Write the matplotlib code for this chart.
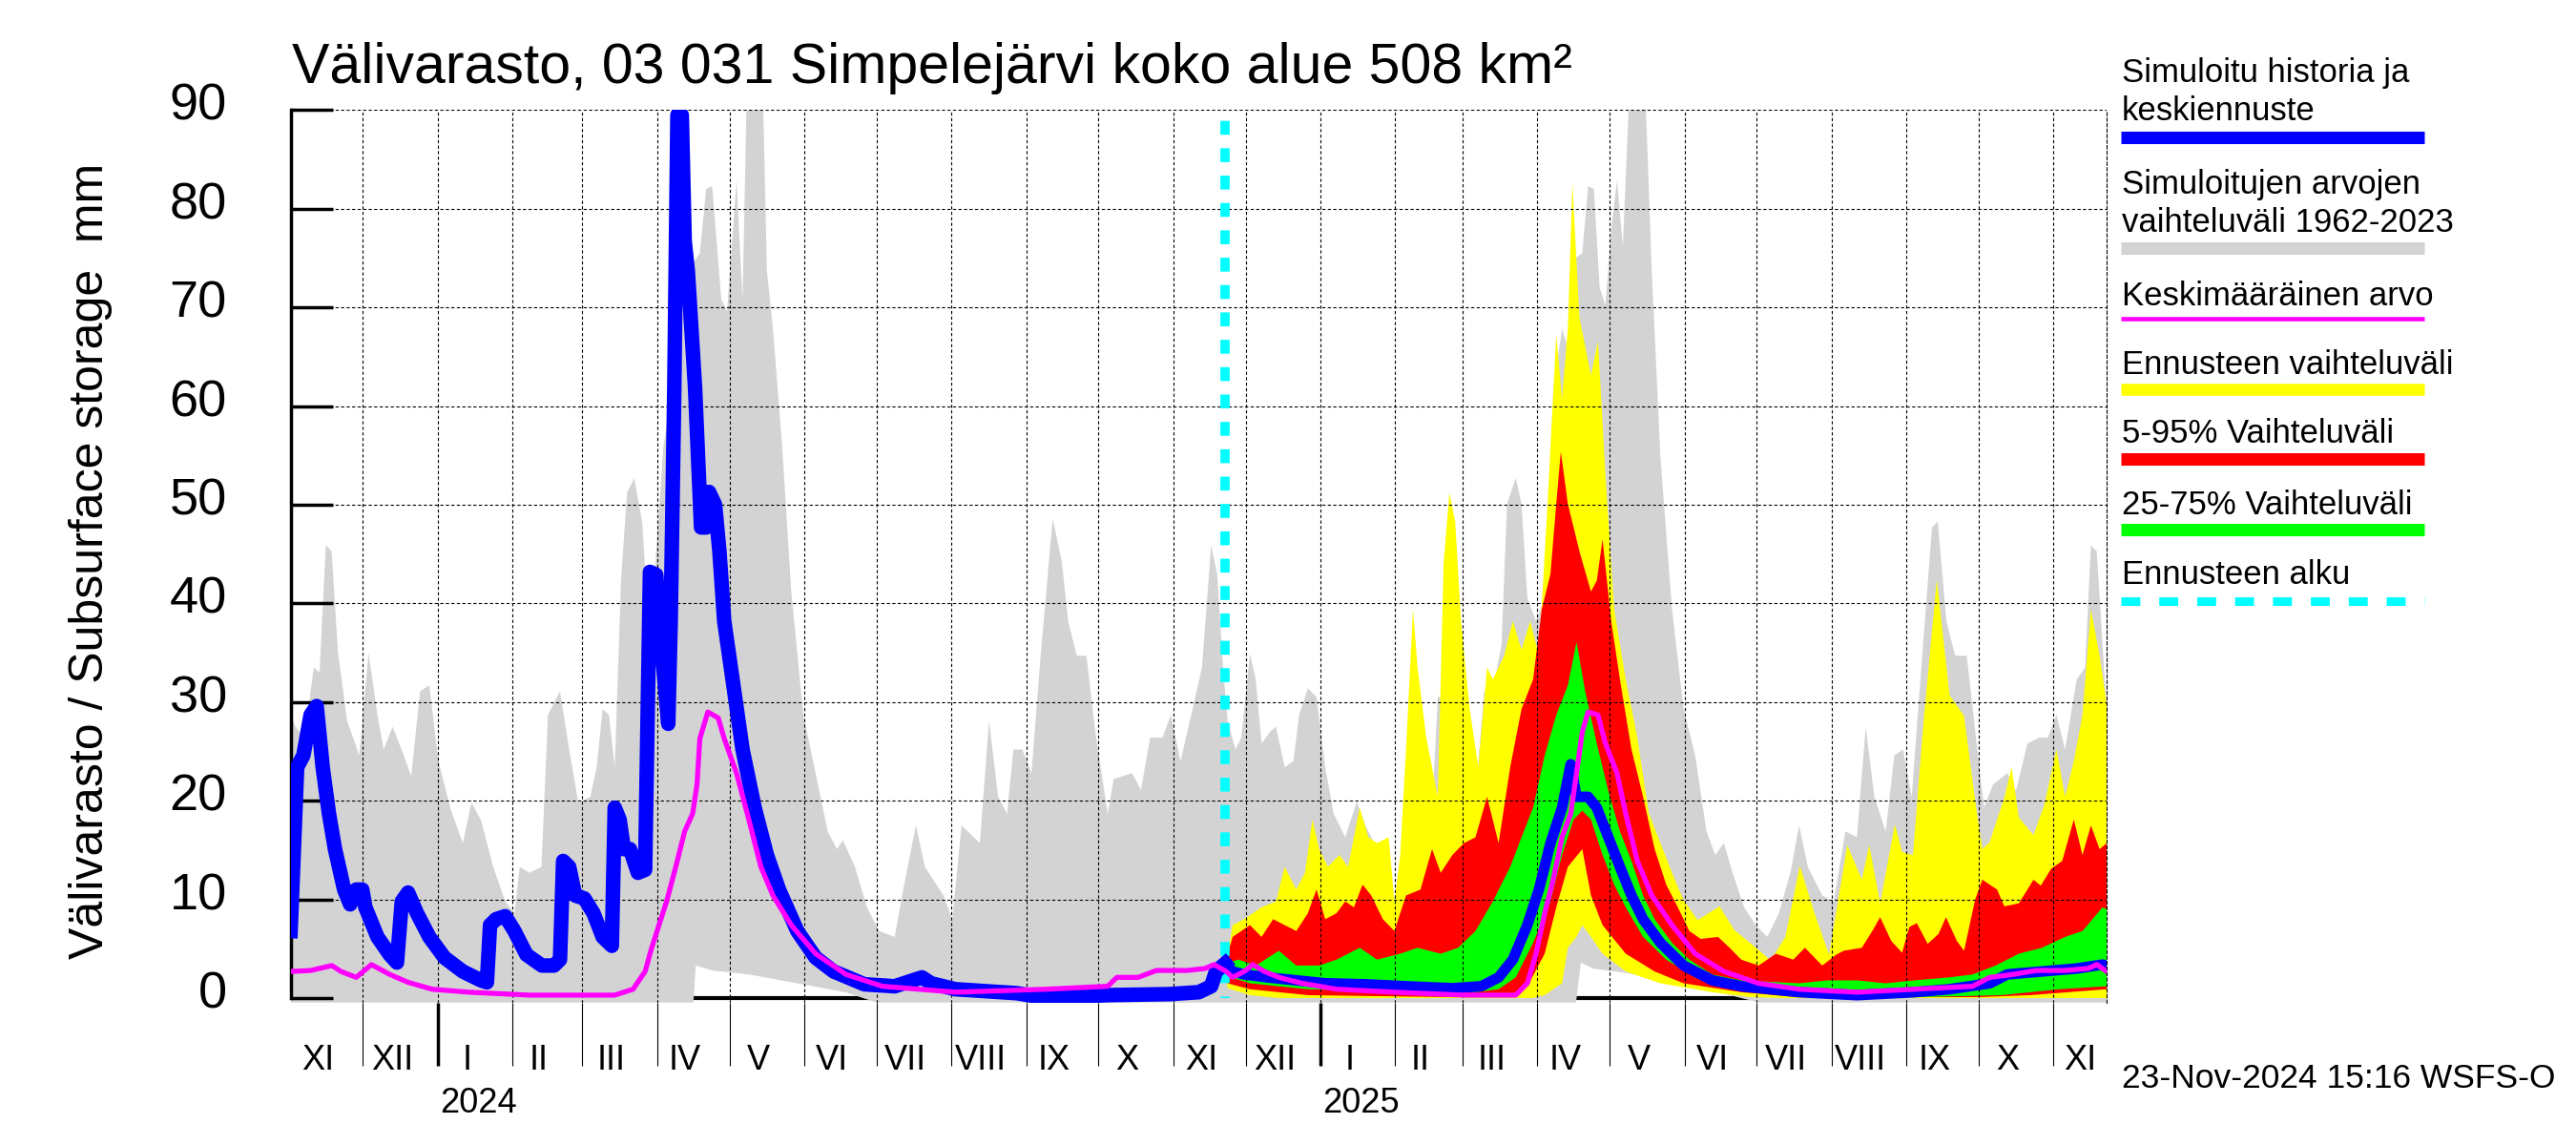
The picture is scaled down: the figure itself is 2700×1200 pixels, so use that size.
import numpy as np
import matplotlib
matplotlib.use("Agg")
import matplotlib.pyplot as plt
from matplotlib.lines import Line2D
from matplotlib.transforms import blended_transform_factory, ScaledTranslation

plt.rcParams['font.family'] = ['Liberation Sans', 'DejaVu Sans']

# ------------------------------------------------------------------ data
# x values are days counted from 2023-11-01
START = np.datetime64('2023-11-01')
END = np.datetime64('2025-11-23')
FORECAST_START = 387.5

title = "Välivarasto, 03 031 Simpelejärvi koko alue 508 km²"
ylabel = "Välivarasto / Subsurface storage  mm"
footer = "23-Nov-2024 15:16 WSFS-O"
month_names = ['I', 'II', 'III', 'IV', 'V', 'VI', 'VII', 'VIII', 'IX', 'X', 'XI', 'XII']
yticks = [0, 10, 20, 30, 40, 50, 60, 70, 80, 90]
legend_labels = ["Simuloitu historia ja\nkeskiennuste",
                 "Simuloitujen arvojen\nvaihteluväli 1962-2023",
                 "Keskimääräinen arvo",
                 "Ennusteen vaihteluväli",
                 "5-95% Vaihteluväli",
                 "25-75% Vaihteluväli",
                 "Ennusteen alku"]

# simulated history (blue)
hist_days = [0, 2.7, 5.3, 8.3, 10.8, 13.3, 15.9, 18.4, 22.2, 24.7, 27.2, 29.7, 31, 36, 41.1, 44.1,
             46.1, 48.7, 52.4, 57.5, 63.8, 71.4, 78.9, 81.4, 82.7, 85.2, 89, 92.8, 97.8, 104.2,
             109.2, 111.7, 113, 115.5, 118, 121.8, 125.6, 129.4, 133.2, 134.4, 136.4, 138.2,
             140.7, 144, 147, 149, 151.6, 153.3, 156.6, 157.6, 159.1, 160.4, 162.2, 163.4, 164.7,
             167.7, 170.2, 172.3, 173.5, 176, 177.8, 179.8, 183.6, 187.4, 192.4, 197.5, 202.5,
             210.1, 217.7, 225.2, 237.9, 250.5, 258, 261.8, 265.6, 275.7, 301, 313.5, 338.8,
             364, 376.6, 381.7, 383.7, 387.5]
hist_vals = [6.8, 23.4, 24.6, 28.7, 29.6, 23.4, 18.7, 15.1, 11.0, 9.5, 11.0, 11.0, 9.2, 6.2, 4.4,
             3.6, 9.8, 10.7, 8.6, 6.2, 4.1, 2.7, 1.8, 1.6, 7.4, 8.0, 8.3, 6.8, 4.4, 3.3, 3.3, 3.9,
             13.9, 13.3, 10.4, 10.1, 8.6, 6.2, 5.3, 19.3, 18.1, 15.1, 15.1, 12.7, 13.0, 43.2, 42.9,
             37.0, 27.8, 38.2, 61.9, 89.5, 89.5, 76.7, 73.7, 61.9, 47.7, 47.7, 51.3, 50.0, 45.3,
             38.2, 31.7, 25.2, 19.3, 14.5, 11.0, 6.8, 4.1, 2.7, 1.4, 1.2, 1.8, 2.1, 1.5, 0.9, 0.5,
             0.0, 0.3, 0.4, 0.6, 1.2, 2.7, 3.5]

# forecast median (blue)
med_days = [387.5, 390.6, 395.4, 405, 417, 429, 445.7, 462.5, 481.7, 493.7, 500.9, 506.8, 512.8,
            517.6, 522.4, 527.2, 530.8, 533.2, 538, 541.6, 546.4, 551.2, 556, 560.8, 568, 577.6,
            589.5, 601.5, 625.5, 649.5, 673.4, 687.8, 704.6, 711.8, 726.2, 740.6, 751.3, 753]
med_vals = [3.5, 2.7, 2.4, 2.1, 1.8, 1.5, 1.4, 1.2, 1.0, 1.2, 2.1, 3.9, 7.4, 11.0, 15.7, 19.3,
            23.7, 20.4, 20.4, 19.3, 16.3, 13.3, 10.4, 8.0, 5.6, 3.3, 1.8, 1.2, 0.6, 0.3, 0.6, 0.9,
            1.5, 2.4, 2.7, 3.0, 3.4, 3.3]

# long-term mean (magenta)
mean_days = [0, 8.3, 17.1, 20.9, 27.2, 33.5, 41.1, 48.7, 58.7, 73.9, 99.1, 134.4, 142, 147,
             149.6, 155.9, 159.7, 163.4, 166.7, 168.5, 169.7, 173, 177.3, 179.8, 184.9, 190, 195,
             200, 207.6, 217.7, 230.3, 245.4, 275.7, 313.5, 338.8, 342.6, 351.4, 359, 371.6,
             379.1, 382.9, 388, 390.6, 395.4, 399, 403.8, 409.8, 419.4, 433.7, 457.7, 486.5, 508,
             512.8, 516.4, 520, 523.6, 527.2, 530.8, 533.2, 535.6, 538, 542.1, 545.2, 550, 553.6,
             558.4, 564.4, 572.8, 582.4, 594.3, 608.7, 625.5, 649.5, 673.4, 697.4, 704.6, 714.2,
             723.8, 735.8, 745.3, 749, 753]
mean_vals = [2.7, 2.8, 3.3, 2.7, 2.1, 3.4, 2.4, 1.6, 0.9, 0.6, 0.3, 0.3, 0.9, 2.7, 5.0, 9.8,
             13.3, 16.9, 18.7, 21.6, 26.3, 29.0, 28.4, 26.3, 22.8, 18.1, 13.3, 10.4, 7.4, 4.5, 2.4,
             1.2, 0.6, 0.9, 1.2, 2.1, 2.1, 2.8, 2.8, 3.0, 3.4, 2.7, 2.1, 2.7, 3.4, 2.7, 2.1, 1.5,
             0.9, 0.6, 0.3, 0.3, 1.5, 4.5, 8.6, 12.1, 16.3, 18.7, 22.8, 27.0, 29.0, 28.7, 25.8,
             22.8, 18.7, 13.9, 10.4, 7.4, 4.5, 2.7, 1.5, 0.9, 0.6, 0.9, 1.2, 2.1, 2.4, 2.8, 2.8,
             3.0, 3.4, 2.7]

# range of simulated values 1962-2023 (grey)
gray_hi_days = [0, 2, 5.8, 9.6, 12, 14.6, 17, 19.6, 23.4, 28.5, 32.3, 36, 38.6, 42.3, 46, 50, 53.7,
                57.5, 61.3, 66.3, 71.4, 75, 79, 84, 89, 92.8, 95, 99, 104, 106.7, 111.7, 115.5,
                119.3, 124.3, 126.9, 129.4, 132, 134.4, 137, 139.5, 142.5, 145.8, 148.3, 150.8,
                154.6, 159.7, 164.7, 169.7, 172.3, 174.8, 178.6, 181, 184.9, 187.4, 189, 196,
                197.5, 200, 203.8, 207.6, 212.6, 217.7, 222.7, 226.5, 229, 234, 239, 244, 250.5,
                254, 259.3, 263, 270.7, 274.4, 278.2, 283.3, 285.8, 289.6, 293.4, 297.1, 299.7,
                303.4, 307.2, 311, 316, 319.8, 322.4, 326, 330, 333.7, 338.8, 341.3, 348.9, 352.6,
                356.4, 361.5, 365, 369, 374, 377.9, 381.7, 384.2, 386.5, 388.5, 391.8, 394.2,
                397.8, 400.2, 402.6, 406.2, 408.6, 412.2, 415.8, 418.2, 421.8, 425.4, 429, 432.5,
                437.3, 442.1, 445.7, 450.5, 455.3, 458.9, 462.5, 467.3, 472.1, 475.7, 479.3, 482.9,
                486.5, 491.3, 494.9, 498.5, 502.1, 504.4, 508, 510.4, 512.8, 516.4, 520, 523.6,
                527.2, 529.6, 532, 535.6, 538, 540.4, 542.8, 545.2, 547.6, 550, 552.4, 554.8, 562,
                564.4, 568, 572.8, 577.6, 582.4, 587.1, 590.7, 594.3, 597.9, 602.7, 607.5, 612.3,
                617.1, 621.9, 625.5, 629.1, 635.1, 639.9, 644.7, 649.5, 653.1, 656.7, 661.4, 665,
                668.6, 672.2, 675.8, 680.6, 683, 686.6, 690.2, 695, 698.6, 702.2, 705.8, 711.8,
                715.4, 720.2, 725, 728.6, 732.2, 735.8, 740.6, 744.1, 746.5, 748.9, 753]
gray_hi_vals = [28.7, 27.5, 26.4, 33.5, 33, 45.9, 45.3, 35.2, 28.1, 24.6, 35, 28.7, 25.2, 27.5,
                25.2, 22.5, 31.1, 31.7, 24, 19.2, 15.7, 19.8, 18, 13.3, 9.8, 8.6, 13.3, 12.7, 13.3,
                28.7, 31.1, 25.2, 19.8, 20.4, 23.4, 29.3, 28.7, 23.4, 42.3, 51.2, 52.7, 48.2, 38.2,
                42.3, 56, 63.7, 73.7, 75.5, 82, 82.3, 70.8, 69.6, 82.9, 70.8, 90, 90, 73.7, 67.8,
                56, 41.2, 28.7, 22.8, 16.9, 15.1, 16, 13.3, 9.2, 6.8, 6.2, 11, 17.5, 13.3, 10.4, 8,
                17.5, 16.3, 15.7, 28.1, 20.4, 18.7, 25.2, 25.2, 22.8, 34.7, 48.6, 44.2, 38.2, 34.7,
                34.7, 26.9, 18.7, 22.2, 22.8, 21.1, 26.4, 26.4, 28.7, 24, 29.3, 33.5, 45.9, 43, 34,
                28.1, 25.2, 26.4, 34.9, 32.3, 25.8, 27, 27.5, 23.4, 24, 28.7, 31.4, 30.5, 23.4,
                18.7, 16.3, 19.9, 17.5, 15.1, 10.4, 7.4, 12.1, 12.7, 13.3, 30.5, 30.5, 23.4, 20.4,
                20.4, 31.1, 31.1, 35.8, 50.1, 52.7, 50.1, 40.6, 38.2, 40.6, 61.9, 67.8, 66, 74.9,
                75.5, 82.3, 82, 72, 70.2, 77.9, 82.9, 76.1, 90, 90, 73.7, 54.8, 39.4, 29.3, 24.6,
                16.9, 14.5, 15.7, 12.7, 9.2, 7.4, 6.2, 8.6, 12.7, 17.5, 13.3, 10.4, 9.8, 16.9, 16.3,
                27.5, 20.4, 16.9, 24.6, 25.2, 20.4, 32.3, 47.7, 48.3, 38.2, 34.7, 34.7, 26.9, 19.3,
                21.6, 22.8, 21, 25.8, 26.4, 26.4, 28.7, 25.2, 32.3, 33.5, 45.9, 45.3, 29.3]
gray_lo_days = [0, 167, 168, 175, 190, 210, 230, 243, 533, 535, 540, 555, 575, 595, 609, 753]
gray_lo_vals = [0, 0, 3.3, 2.8, 2.4, 1.5, 0.6, 0, 0, 3.6, 3.0, 2.5, 1.4, 0.4, 0, 0]

# forecast range min-max (yellow)
yel_hi_days = [387.5, 388.2, 390.6, 395.4, 402.6, 408.6, 412.2, 417, 420.6, 423.7, 426.5, 430.1,
               434.9, 438.5, 443.3, 446.9, 450.5, 455.3, 457.7, 460.1, 462.5, 465.4, 467.3, 470.9,
               475.7, 478.1, 480.5, 482.9, 485.3, 488.9, 492.5, 496.1, 498.5, 503.2, 506.8, 510.4,
               514, 517.6, 521.2, 524.8, 527.2, 529.6, 531.5, 534.4, 539.2, 542.1, 545.2, 548.8,
               553.6, 558.4, 563.2, 568, 572.8, 577.4, 583.4, 592.5, 598.6, 607.6, 613.7, 619.8,
               625.8, 631.9, 637.9, 645.5, 651.5, 654.6, 659.1, 665.2, 668.2, 672.7, 677.3, 682.6,
               687.9, 693.9, 698.5, 701.5, 704.5, 710.6, 713.6, 716.6, 722.7, 727.2, 732.2, 735.8,
               739.4, 743, 746.5, 750.1, 753]
yel_hi_vals = [3.5, 3.9, 7.4, 8.0, 9.2, 9.8, 13.3, 11, 12.7, 18.1, 15.1, 13.3, 14.5, 13.3, 19.3,
               16.3, 15.7, 16.3, 9.8, 14.5, 25.2, 39.4, 33.5, 26.4, 20.4, 44.1, 51.2, 48.3, 38.2,
               29.3, 23.4, 33.5, 32.3, 34.7, 38.2, 35.3, 38.2, 34.7, 50.1, 67.2, 60.7, 67.8, 82.6,
               69, 63.1, 66.6, 53, 39.4, 32.3, 26.4, 18.7, 15.7, 12.7, 10, 7.9, 9.3, 6.9, 5.1, 3.8,
               6.2, 13.4, 8.6, 4.4, 15.5, 12, 15.5, 9.6, 17.6, 14.8, 14.5, 28.6, 42.4, 30.7, 28.6,
               20, 15.1, 15.8, 20.3, 23.4, 18.3, 16.5, 19.6, 25.2, 20.4, 24, 28.7, 39.4, 34.7, 29.9]
yel_lo_days = [387.5, 388.5, 397.8, 410, 515, 520, 527.2, 529.6, 533.2, 535.6, 539.2, 544, 553.6,
               568, 589.5, 605, 620, 753]
yel_lo_vals = [3.5, 1.0, 0.3, 0.0, 0.0, 0.3, 1.5, 5.1, 6.2, 7.4, 6.2, 4.5, 2.7, 1.5, 0.6, 0.1,
               0.0, 0.0]

# 5-95 % range (red)
red_hi_days = [387.5, 390.6, 397.8, 402.6, 407.4, 412.2, 417, 421.8, 425.4, 429, 433.7, 437.3,
               440.9, 444.5, 448.1, 452.9, 457.7, 462.5, 468.5, 473.3, 476.9, 481.7, 486.5, 491.3,
               496.1, 500.9, 505.7, 510.4, 515.2, 518.8, 522.4, 524.8, 526.7, 529.6, 534.4, 539.2,
               541.6, 544, 547.6, 551.2, 556, 560.8, 565.6, 570.4, 575.2, 580, 584.7, 591.9, 596.7,
               601.5, 608.7, 615.9, 623.1, 627.9, 635.1, 640.9, 644, 651.5, 656.1, 659.1, 663.7,
               668.2, 671.2, 674.3, 678.8, 683.3, 686.4, 690.9, 693.9, 698.5, 701.5, 707.6, 710.6,
               716.6, 722.7, 725.7, 730, 734.6, 739.4, 743, 746.5, 750.1, 753]
red_hi_vals = [3.5, 6.2, 7.4, 6.2, 8, 7.4, 6.8, 8.6, 11, 8, 8.6, 9.8, 9.2, 11.5, 10.4, 8, 6.8,
               10.4, 11, 15.1, 12.7, 14.5, 15.7, 16.3, 20.4, 15.7, 23.4, 29.3, 32.3, 39.4, 43,
               50.1, 55.4, 50.1, 45.3, 41.2, 42.3, 46.5, 38.2, 32.3, 25.2, 20.4, 15.1, 11.5, 9.2,
               6.8, 6, 6.2, 5.1, 3.9, 3.3, 4.5, 3.9, 5.1, 3.3, 4.4, 4.8, 5.1, 6.9, 8.2, 5.8, 4.6,
               7.2, 7.6, 5.5, 6.5, 8.2, 5.8, 4.8, 10, 12, 11, 9.3, 9.6, 12, 11.4, 13.1, 13.9, 18.1,
               14.5, 17.5, 15.1, 15.7]
red_lo_days = [387.5, 388.5, 397.8, 421.8, 480, 505.7, 512.8, 520, 524.8, 529.6, 535.6, 539.2,
               544, 553.6, 565.6, 577.6, 601.5, 625, 700, 721.4, 753]
red_lo_vals = [3.5, 1.5, 0.9, 0.3, 0.1, 0.3, 1.2, 4.5, 9.2, 13.3, 15.1, 10.4, 7.4, 4.5, 2.7,
               1.5, 0.6, 0.1, 0.1, 0.3, 0.9]

# 25-75 % range (green)
grn_hi_days = [387.5, 393, 400.2, 409.8, 417, 426.5, 433.7, 443.3, 450.5, 460.1, 467.3, 476.9,
               484.1, 491.3, 498.5, 505.7, 510.4, 515.2, 520, 524.8, 529.6, 533.2, 536.8, 541.6,
               546.4, 551.2, 556, 560.8, 565.6, 572.8, 580, 589.5, 601.5, 625.5, 637.5, 649.5,
               661.4, 673.4, 687.8, 697.4, 707, 716.6, 726.2, 735.8, 743, 751.3, 753]
grn_hi_vals = [3.5, 3.9, 3.3, 4.8, 3.3, 3.3, 3.9, 5.1, 3.9, 4.5, 5.1, 4.5, 5.1, 6.8, 9.8, 13.3,
               16.3, 19.3, 24.6, 28.7, 31.7, 36.1, 31.1, 25.8, 21, 16.9, 13.9, 10.4, 8, 5.6, 3.9,
               2.4, 1.8, 1.5, 1.8, 1.8, 1.5, 1.8, 2.1, 2.4, 3.3, 4.5, 5.1, 6.2, 6.8, 9.2, 9.0]
grn_lo_days = [387.5, 388.5, 397.8, 421.8, 457.7, 491.3, 500.9, 508, 515.2, 522.4, 527.2, 532,
               535.6, 539.2, 544, 548.8, 553.6, 560.8, 570.4, 582.4, 601.5, 625.5, 660, 709.4,
               733.4, 753]
grn_lo_vals = [3.5, 2.2, 1.5, 0.9, 0.6, 0.6, 0.9, 2.1, 5.6, 9.8, 14.5, 18.1, 19, 18.1, 14.5,
               11.5, 9.2, 6.2, 3.9, 2.1, 0.9, 0.3, 0.0, 0.3, 0.9, 1.2]

# ------------------------------------------------------------------ figure
W_PX, H_PX = 2700, 1200
fig = plt.figure(figsize=(27, 12), dpi=100)
Y_BOTTOM = -0.45
ax_left, ax_right = 304.6, 2208.0
ax_top, ax_bot = 115.4, 1050.7
ax = fig.add_axes([ax_left / W_PX, 1 - ax_bot / H_PX,
                   (ax_right - ax_left) / W_PX, (ax_bot - ax_top) / H_PX])

x_end = float((END - START).astype(int))
ax.set_xlim(0, x_end)
ax.set_ylim(Y_BOTTOM, 90)

GRAY = '#d3d3d3'


def band(hd, hv, ld, lv, color, z):
    hd, hv, ld, lv = map(lambda a: np.asarray(a, float), (hd, hv, ld, lv))
    ax.fill(np.r_[hd, ld[::-1]], np.r_[hv, lv[::-1]], color=color, lw=0, zorder=z)


glo = np.asarray(gray_lo_vals, float)
glo_plot = np.where(glo <= 0, Y_BOTTOM, glo)
band(gray_hi_days, gray_hi_vals, gray_lo_days, glo_plot, GRAY, 1.0)
band(yel_hi_days, yel_hi_vals, yel_lo_days, yel_lo_vals, '#ffff00', 1.1)
band(red_hi_days, red_hi_vals, red_lo_days, red_lo_vals, '#ff0000', 1.2)
band(grn_hi_days, grn_hi_vals, grn_lo_days, grn_lo_vals, '#00ff00', 1.3)

# zero line under the grey band
ax.axhline(0, color='black', lw=3.0, zorder=0.8)

# forecast start
ax.plot([FORECAST_START, FORECAST_START], [90, 0], color='#00ffff', lw=7,
        ls=(1.75, (1.5, 1.45)), zorder=2, solid_capstyle='butt', dash_capstyle='butt')

ax.plot(hist_days, hist_vals, color='#0000ff', lw=11, zorder=3)
ax.plot(med_days, med_vals, color='#0000ff', lw=8, zorder=3)
ax.plot(mean_days, mean_vals, color='#ff00ff', lw=3.8, zorder=4)

# ---- axes styling
for s in ['top', 'bottom']:
    ax.spines[s].set_visible(False)
ax.spines['right'].set_linestyle((0, (3, 2.2)))
ax.spines['right'].set_linewidth(0.8)
ax.spines['left'].set_linewidth(2.5)
ax.spines['left'].set_bounds(0, 90)

ax.set_yticks(yticks)
ax.set_yticklabels([str(v) for v in yticks])
ax.tick_params(axis='y', direction='in', length=31.7, width=2.5, pad=48, labelsize=39)
for lab in ax.get_yticklabels():
    lab.set_transform(lab.get_transform() + ScaledTranslation(0, 9 / 100, fig.dpi_scale_trans))

months = np.arange(np.datetime64('2023-11'), np.datetime64('2025-12'), dtype='datetime64[M]')
month_start_days = (months.astype('datetime64[D]') - START).astype(int)
is_jan = (months.astype(int) % 12) == 0
year_days = month_start_days[is_jan]
minor_days = month_start_days[(~is_jan) & (month_start_days > 0)]
ax.set_xticks(year_days)
ax.set_xticks(minor_days, minor=True)
ax.set_xticklabels([])
ax.tick_params(axis='x', which='major', direction='out', length=47.5, width=2.5, labelbottom=False)
ax.tick_params(axis='x', which='minor', direction='out', length=47.5, width=0.8, labelbottom=False)

grid_ls = (0, (3, 2.2))
ax.grid(True, axis='x', which='both', color='black', lw=0.8, ls=grid_ls)
ax.grid(True, axis='y', which='major', color='black', lw=0.8, ls=grid_ls)
ax.get_ygridlines()[0].set_visible(False)

# month labels
trans = blended_transform_factory(ax.transData, ax.transAxes)
month_idx = months.astype(int) % 12
next_starts = np.r_[month_start_days[1:], x_end]
for i, (m0, m1) in enumerate(zip(month_start_days, next_starts)):
    m1 = min(m1, x_end)
    if m1 - m0 > 25:
        xc = (m0 + m1) / 2 - 3.5
    else:
        xc = (m0 + m1) / 2
    ax.text(xc, -0.0752, month_names[month_idx[i]], transform=trans, ha='center', va='baseline',
            fontsize=26, clip_on=False)
years = months[is_jan].astype('datetime64[Y]').astype(int) + 1970
for yd, yr in zip(year_days, years):
    ax.text(yd + 1, -0.1233, str(yr), transform=trans, ha='left', va='baseline',
            fontsize=26, clip_on=False)

# title, y label, footer
fig.text(306 / W_PX, 1 - 87 / H_PX, title, fontsize=42.5, ha='left', va='baseline')
fig.text(95 / W_PX, 1 - 588 / H_PX, ylabel, fontsize=36, rotation=90, ha='center', va='center')
fig.text(2224 / W_PX, 1 - 1140 / H_PX, footer, fontsize=25.5, ha='left', va='baseline')

# legend
leg_x0, leg_x1 = 2223 / W_PX, 2541 / W_PX
leg_items = [
    (legend_labels[0], [86, 126], 144, dict(color='#0000ff', lw=9.4)),
    (legend_labels[1], [203, 243], 260, dict(color=GRAY, lw=9.4)),
    (legend_labels[2], [320], 334, dict(color='#ff00ff', lw=3.3)),
    (legend_labels[3], [392], 408, dict(color='#ffff00', lw=9)),
    (legend_labels[4], [464], 481, dict(color='#ff0000', lw=9.4)),
    (legend_labels[5], [539], 555, dict(color='#00ff00', lw=9.4)),
    (legend_labels[6], [612], 630, dict(color='#00ffff', lw=6.5, ls=(0, (2.2, 2.2)))),
]
for text, baselines, ly, style in leg_items:
    for line_text, b in zip(text.split('\n'), baselines):
        fig.text(2224 / W_PX, 1 - b / H_PX, line_text, fontsize=25, ha='left', va='baseline')
    fig.add_artist(Line2D([leg_x0, leg_x1], [1 - ly / H_PX, 1 - ly / H_PX],
                          transform=fig.transFigure, solid_capstyle='butt',
                          dash_capstyle='butt', **style))

fig.savefig('out.png', dpi=100)
